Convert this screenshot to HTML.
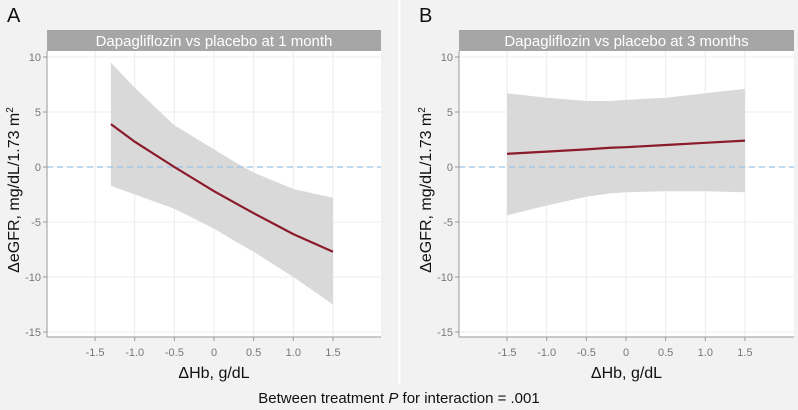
<!DOCTYPE html>
<html><head><meta charset="utf-8"><style>
body{margin:0;background:#f2f2f2;}
svg{display:block;font-family:"Liberation Sans",sans-serif;}
</style></head><body>
<svg id="chart" width="798" height="410" viewBox="0 0 798 410">
<rect x="0" y="0" width="798" height="410" fill="#f2f2f2"/>
<line x1="399.5" y1="0" x2="399.5" y2="385" stroke="#fff" stroke-width="2"/>
<g id="root"></g>
<text x="399" y="403" text-anchor="middle" font-size="15" fill="#111">Between treatment <tspan font-style="italic">P</tspan> for interaction = .001</text>
</svg>
<script>
const xTicks=[-1.5,-1.0,-0.5,0,0.5,1.0,1.5];
const xTickLabels=["-1.5","-1.0","-0.5","0","0.5","1.0","1.5"];
const yTicks=[10,5,0,-5,-10,-15];
const yTickLabels=["10","5","0","-5","-10","-15"];
const aX=[-1.3,-1.0,-0.5,0,0.3,0.5,1.0,1.5];
const aFit=[3.9,2.3,0.0,-2.2,-3.4,-4.2,-6.1,-7.7];
const aUpper=[9.5,7.2,3.8,1.6,0.3,-0.5,-2.0,-2.8];
const aLower=[-1.7,-2.5,-3.8,-5.6,-6.9,-7.7,-10.0,-12.5];
const bX=[-1.5,-1.0,-0.5,-0.2,0,0.5,1.0,1.5];
const bFit=[1.2,1.4,1.6,1.75,1.8,2.0,2.2,2.4];
const bUpper=[6.7,6.3,6.0,6.0,6.1,6.3,6.7,7.1];
const bLower=[-4.4,-3.5,-2.7,-2.4,-2.3,-2.2,-2.2,-2.3];
const NS="http://www.w3.org/2000/svg";
const root=document.getElementById('root');
function mk(tag,attrs,parent){const e=document.createElementNS(NS,tag);for(const k in attrs)e.setAttribute(k,attrs[k]);(parent||root).appendChild(e);return e;}
function panel(key,letter,title,L,R,x0px,xs,fit,up,lo){
  const T=51,B=337;
  const y=v=>167-v*11;
  const x=v=>x0px+v*79.3;
  const g=mk('g',{});
  
  
  const lt=mk('text',{x:L-40,y:22,'font-size':20,fill:'#111'},g);lt.textContent=letter;
  
  
  const st=mk('rect',{x:L,y:30,width:R-L,height:21,fill:'#a6a6a6'},g);
  
  
  const stt=mk('text',{x:(L+R)/2,y:46,'text-anchor':'middle','font-size':15,fill:'#fff'},g);stt.textContent=title;
  
  
  const bg=mk('rect',{x:L,y:T,width:R-L,height:B-T,fill:'#fff'},g);
  
  
  xTicks.forEach((t,i)=>{
    const gl=mk('line',{x1:x(t),x2:x(t),y1:T,y2:B,stroke:'#ececec'},g);
    
    
    mk('line',{x1:x(t),x2:x(t),y1:B,y2:B+4,stroke:'#999'},g);
    const tl=mk('text',{x:x(t),y:B+19,'text-anchor':'middle','font-size':11,fill:'#777'},g);tl.textContent=xTickLabels[i];
    
    
  });
  yTicks.forEach((t,i)=>{
    const gl=mk('line',{x1:L,x2:R,y1:y(t),y2:y(t),stroke:'#ececec'},g);
    
    
    mk('line',{x1:L-4,x2:L,y1:y(t),y2:y(t),stroke:'#999'},g);
    const tl=mk('text',{x:L-6,y:y(t)+4,'text-anchor':'end','font-size':11,fill:'#777'},g);tl.textContent=yTickLabels[i];
    
    
  });
  let d='';xs.forEach((v,i)=>{d+=(i?'L':'M')+x(v)+','+y(up[i]);});
  for(let i=xs.length-1;i>=0;i--)d+='L'+x(xs[i])+','+y(lo[i]);
  const band=mk('path',{d:d+'Z',fill:'#d9d9d9'},g);
  
  
  const ref=mk('line',{x1:L,x2:R,y1:y(0),y2:y(0),stroke:'#9dc3e6','stroke-width':1.3,'stroke-dasharray':'6,4'},g);
  
  
  let ld='';xs.forEach((v,i)=>{ld+=(i?'L':'M')+x(v)+','+y(fit[i]);});
  const ln=mk('path',{d:ld,fill:'none',stroke:'#8b1a2b','stroke-width':2.2},g);
  
  
  mk('line',{x1:L,x2:L,y1:T,y2:B,stroke:'#999'},g);
  mk('line',{x1:L,x2:R,y1:B,y2:B,stroke:'#999'},g);
  const xt=mk('text',{x:(L+R)/2,y:378,'text-anchor':'middle','font-size':16,fill:'#111'},g);xt.textContent='ΔHb, g/dL';
  
  
  const yt=mk('text',{x:0,y:0,'text-anchor':'middle','font-size':16,fill:'#111',transform:'translate('+(L-28)+',190) rotate(-90)'},g);
  yt.innerHTML='ΔeGFR, mg/dL/1.73 m<tspan dy="-6" font-size="10">2</tspan>';
  
  
}
panel('a','A','Dapagliflozin vs placebo at 1 month',47,381,214,aX,aFit,aUpper,aLower);
panel('b','B','Dapagliflozin vs placebo at 3 months',459,794,626,bX,bFit,bUpper,bLower);
</script>
</body></html>
